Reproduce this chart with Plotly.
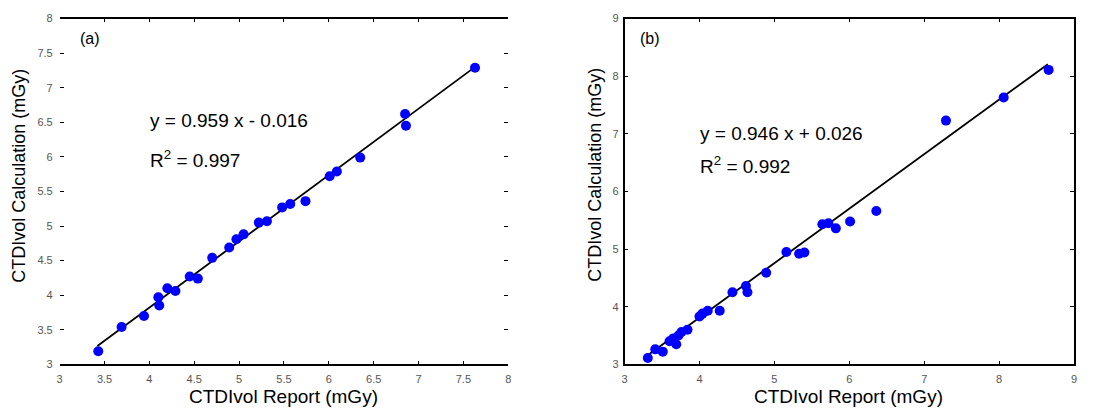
import plotly.graph_objects as go

# Panel (a)
a_report = [3.43, 3.69, 3.94, 4.10, 4.11, 4.20, 4.29, 4.45, 4.54, 4.70, 4.89, 4.97, 5.05,
            5.22, 5.31, 5.48, 5.57, 5.74, 6.01, 6.09, 6.35, 6.85, 6.86, 7.63]
a_calc = [3.19, 3.54, 3.70, 3.97, 3.85, 4.10, 4.06, 4.27, 4.24, 4.54, 4.69, 4.81, 4.88,
          5.05, 5.07, 5.27, 5.32, 5.36, 5.72, 5.79, 5.99, 6.62, 6.45, 7.29]
a_slope, a_icpt = 0.959, -0.016
a_fit_x = [3.42, 7.62]

# Panel (b)
b_report = [3.31, 3.41, 3.51, 3.60, 3.65, 3.69, 3.72, 3.76, 3.84, 4.00, 4.04, 4.11, 4.27,
            4.44, 4.62, 4.64, 4.89, 5.16, 5.33, 5.40, 5.64, 5.72, 5.82, 6.01, 6.36,
            7.29, 8.06, 8.66]
b_calc = [3.11, 3.26, 3.22, 3.40, 3.45, 3.35, 3.50, 3.56, 3.60, 3.83, 3.88, 3.93, 3.93,
          4.25, 4.36, 4.25, 4.59, 4.95, 4.92, 4.94, 5.43, 5.45, 5.36, 5.48, 5.66,
          7.23, 7.63, 8.11]
b_slope, b_icpt = 0.946, 0.026
b_fit_x = [3.3, 8.65]

a_ticks = [3, 3.5, 4, 4.5, 5, 5.5, 6, 6.5, 7, 7.5, 8]
b_ticks = [3, 4, 5, 6, 7, 8, 9]

FONT = "Arial, Liberation Sans, sans-serif"
BLUE = "#0000ff"

fig = go.Figure()
fig.add_trace(go.Scatter(x=a_fit_x, y=[a_slope * v + a_icpt for v in a_fit_x], mode="lines",
                         line=dict(color="black", width=1.8), xaxis="x", yaxis="y", showlegend=False))
fig.add_trace(go.Scatter(x=a_report, y=a_calc, mode="markers",
                         marker=dict(color=BLUE, size=10, symbol="circle"),
                         xaxis="x", yaxis="y", showlegend=False))
fig.add_trace(go.Scatter(x=b_fit_x, y=[b_slope * v + b_icpt for v in b_fit_x], mode="lines",
                         line=dict(color="black", width=1.8), xaxis="x2", yaxis="y2", showlegend=False))
fig.add_trace(go.Scatter(x=b_report, y=b_calc, mode="markers",
                         marker=dict(color=BLUE, size=10, symbol="circle"),
                         xaxis="x2", yaxis="y2", showlegend=False))

H, W = 415, 1093
ydom = [1 - 369 / H, 1 - 13 / H]
tickfont = dict(family=FONT, size=11, color="#555")

common = dict(ticks="inside", ticklen=4, tickwidth=1, tickcolor="black",
              showgrid=False, zeroline=False, tickfont=tickfont)

fig.update_layout(
    width=W, height=H,
    margin=dict(l=0, r=0, t=0, b=0),
    paper_bgcolor="white", plot_bgcolor="white",
    xaxis=dict(domain=[57 / W, 508 / W], range=[3, 8], tickvals=a_ticks,
               ticktext=[f"{v:g}" for v in a_ticks], anchor="y",
               showline=True, linecolor="black", linewidth=1.5, mirror="ticks",
               ticklabelstandoff=4, **common),
    yaxis=dict(domain=ydom, range=[3, 8], tickvals=a_ticks,
               ticktext=[f"{v:g}" for v in a_ticks], anchor="x",
               showline=False, mirror="ticks", ticklabelstandoff=6, **common),
    xaxis2=dict(domain=[625 / W, 1077 / W], range=[3, 9], tickvals=b_ticks, anchor="y2",
                showline=True, linecolor="black", linewidth=1.5, mirror="ticks",
                ticklabelstandoff=4, **common),
    yaxis2=dict(domain=ydom, range=[3, 9], tickvals=b_ticks, anchor="x2",
                showline=True, linecolor="black", linewidth=1.5, mirror="ticks",
                ticklabelstandoff=2, **common),
)

def ann(text, x, y, size, xanchor="left", textangle=0):
    fig.add_annotation(text=text, x=x / W, y=1 - y / H, xref="paper", yref="paper",
                       xanchor=xanchor, yanchor="middle", showarrow=False, textangle=textangle,
                       font=dict(family=FONT, size=size, color="black"))

ann("(a)", 75, 33, 16)
ann("(b)", 639, 33, 16)
ann("y = 0.959 x - 0.016", 146, 118, 19)
ann("R<sup>2</sup> = 0.997", 146, 158, 19)
ann("y = 0.946 x + 0.026", 699, 131, 19)
ann("R<sup>2</sup> = 0.992", 699, 164, 19)
ann("CTDIvol Report (mGy)", 282, 402, 19, xanchor="center")
ann("CTDIvol Report (mGy)", 850, 402, 19, xanchor="center")
ann("CTDIvol Calculation (mGy)", 16, 175, 18, xanchor="center", textangle=-90)
ann("CTDIvol Calculation (mGy)", 595, 174, 18, xanchor="center", textangle=-90)

fig.write_html("out.html")
